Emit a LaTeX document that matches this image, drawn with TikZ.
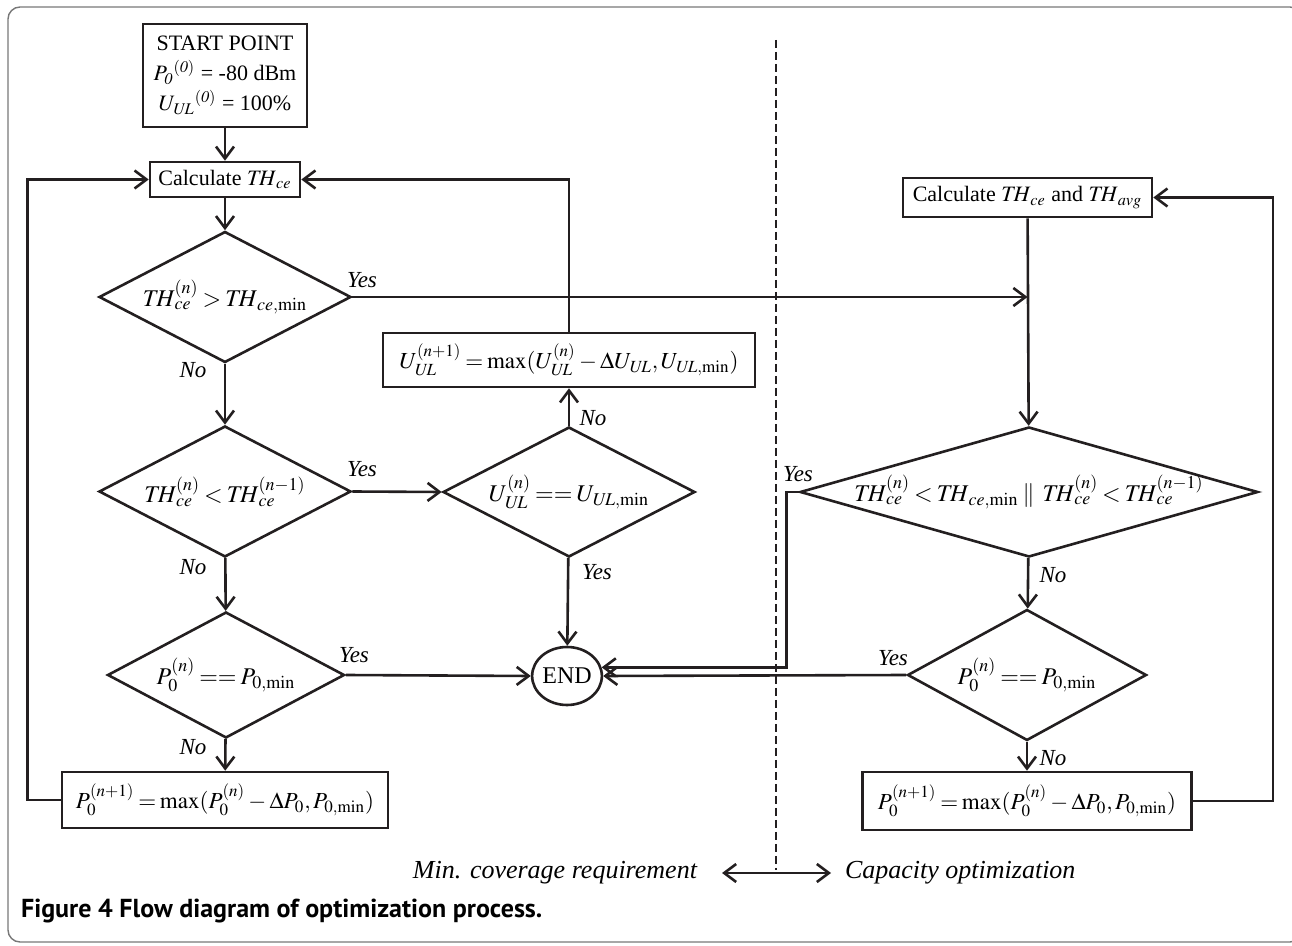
\documentclass[tikz,border=0pt]{standalone}
\usepackage{mathptmx}
\usepackage[no-math]{fontspec}
\setmainfont{Liberation Serif}
\newfontfamily\capfont{PT Sans}
\usetikzlibrary{shapes.geometric,arrows.meta}

\newcommand{\varxl}{225}
\newcommand{\varxm}{569}
\newcommand{\varxr}{1027}
\newcommand{\varxd}{776}
\newcommand{\dmath}[1]{\makebox[0pt]{$\thickmuskip=3mu #1$}}
\newcommand{\vTH}{\mathit{TH}}
\newcommand{\vce}{\mathit{ce}}
\newcommand{\vUL}{\mathit{UL}}
\definecolor{myink}{RGB}{35,31,32}
\definecolor{myframe}{RGB}{120,120,120}

\tikzset{
  box/.style={draw=myink, line width=1.3pt, inner sep=0pt, font=\fontsize{11}{15}\selectfont},
  mbox/.style={box, font=\fontsize{11.5}{14}\selectfont},
  decide/.style={diamond, draw=myink, line width=1.3pt, inner sep=0pt, font=\fontsize{12}{14}\selectfont},
  yesno/.style={font=\fontsize{11.5}{13}\selectfont\itshape, inner sep=0pt},
  flow/.style={->, line width=1.3pt, draw=myink},
  >={Straight Barb[length=6pt,width=9pt]}
}

\begin{document}
\begin{tikzpicture}[x=0.5pt,y=-0.5pt]

	\useasboundingbox (0,0) rectangle (1292,946);

	% frame
	\draw [myframe, line width=0.7pt, rounded corners=6pt] (8,7) rectangle (1302,942);

	% boxes
	\node [box, minimum width=82pt, minimum height=51.5pt, align=center] (start) at (\varxl,75.5)
		{START POINT\\ $P_{\mathit{0}}{}^{(\mathit{0})}$ = -80 dBm\\ $U_{\vUL}{}^{(\mathit{0})}$ = 100\%};
	\node [box, minimum width=75pt, minimum height=17.5pt] (calc) at (\varxl,179.5) {Calculate $\vTH_{\vce}$};
	\node [mbox, minimum width=186pt, minimum height=27pt] (ubox) at (\varxm,360)
		{\dmath{U_{\vUL}^{(n+1)} = \max(U_{\vUL}^{(n)} - \Delta U_{\vUL}, U_{\vUL,\min})}};
	\node [mbox, minimum width=163pt, minimum height=28pt] (pleft) at (\varxl,800)
		{\dmath{P_0^{(n+1)} = \max(P_0^{(n)} - \Delta P_0, P_{0,\min})}};
	\node [box, minimum width=124.5pt, minimum height=19.5pt] (calc2) at (1027.5,197.5)
		{Calculate $\vTH_{\vce}$ and $\vTH_{\mathit{avg}}$};
	\node [mbox, minimum width=164.5pt, minimum height=29pt] (pright) at (\varxr,801)
		{\dmath{P_0^{(n+1)} = \max(P_0^{(n)} - \Delta P_0, P_{0,\min})}};
	\node [ellipse, draw=myink, line width=1.3pt, inner sep=0pt, minimum width=34pt, minimum height=29pt,
		font=\fontsize{12}{14}\selectfont] (endn) at (567,676) {END};

	% decisions
	\node [decide, minimum width=126pt, minimum height=65.5pt] (dec1) at (\varxl,297)
		{\dmath{\vTH_{\vce}^{(n)} > \vTH_{\vce,\min}}};
	\node [decide, minimum width=126pt, minimum height=65.5pt] (dec2) at (\varxl,491.5)
		{\dmath{\vTH_{\vce}^{(n)} < \vTH_{\vce}^{(n-1)}}};
	\node [decide, minimum width=126pt, minimum height=65pt] (dec3) at (\varxm,492)
		{\dmath{U_{\vUL}^{(n)} == U_{\vUL,\min}}};
	\node [decide, minimum width=118.5pt, minimum height=63pt] (dec4) at (226,675)
		{\dmath{P_0^{(n)} == P_{0,\min}}};
	\node [decide, minimum width=229pt, minimum height=65pt] (dec5) at (1029,492)
		{\dmath{\vTH_{\vce}^{(n)} < \vTH_{\vce,\min} \;\|\;\; \vTH_{\vce}^{(n)} < \vTH_{\vce}^{(n-1)}}};
	\node [decide, minimum width=119.5pt, minimum height=65.5pt] (dec6) at (\varxr,675)
		{\dmath{P_0^{(n)} == P_{0,\min}}};

	% yes / no
	\node [yesno] (yes1) at (362,280) {Yes};
	\node [yesno] (no1) at (193,370) {No};
	\node [yesno] (yes2) at (362,469) {Yes};
	\node [yesno] (no2) at (193,567) {No};
	\node [yesno] (yes3) at (354,655) {Yes};
	\node [yesno] (no3) at (193,747) {No};
	\node [yesno] (no4) at (593,418) {No};
	\node [yesno] (yes4) at (597,572) {Yes};
	\node [yesno] (yes5) at (798,474) {Yes};
	\node [yesno] (no5) at (1053,575) {No};
	\node [yesno] (yes6) at (893,658) {Yes};
	\node [yesno] (no6) at (1053,758) {No};

	% left part
	\draw [flow] (start) -- (calc);
	\draw [flow] (calc) -- (dec1);
	\draw [flow] (dec1) -- (dec2);
	\draw [flow] (dec2) -- (dec4);
	\draw [flow] (dec4) -- (pleft);
	\draw [flow] (dec2.east) -- (dec3.west);
	\draw [flow] (dec3) -- (ubox);
	\draw [flow] (ubox.north) |- (calc.east);
	\draw [flow] (dec3) -- (endn);
	\draw [flow] (dec4.east) -- (endn.west);
	\draw [flow] (pleft.west) -- ++(-33,0) |- (calc.west);
	\draw [flow] (dec1.east) -- (dec1.east -| calc2.south);

	% right part
	\draw [flow] (calc2) -- (dec5);
	\draw [flow] (dec5) -- (dec6);
	\draw [flow] (dec6) -- (pright);
	\draw [flow] (dec5.west) -- ++(-12,0) |- (endn.14);
	\draw [flow] (dec6.west) -- (endn.east);
	\draw [flow] (pright.east) -- ++(80,0) |- (calc2.east);

	% divider
	\draw [myink, line width=0.7pt, dash pattern=on 4pt off 2pt] (\varxd,40) -- (\varxd,870);

	% bottom
	\node [anchor=east, font=\fontsize{13}{15}\selectfont\itshape] (minreq) at (704,873) {Min. coverage requirement};
	\node [anchor=west, font=\fontsize{13}{15}\selectfont\itshape] (capopt) at (838,873) {Capacity optimization};
	\draw [<->, line width=1.3pt, draw=myink, shorten <=9pt, shorten >=3.5pt] (minreq.east) -- (capopt.west);

	% caption
	\node [anchor=west, font=\capfont\bfseries\fontsize{13}{15}\selectfont] (caption) at (14,911)
		{Figure 4 Flow diagram of optimization process.};

\end{tikzpicture}
\end{document}
